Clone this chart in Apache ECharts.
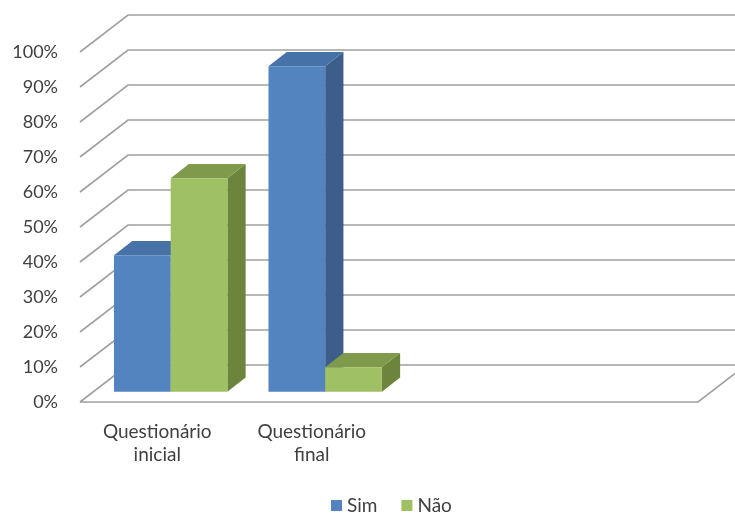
<!DOCTYPE html>
<html>
<head>
<meta charset="utf-8">
<script src="https://cdn.jsdelivr.net/npm/echarts@6/dist/echarts.min.js"></script>
<style>
  html, body { margin: 0; padding: 0; background: #fff; }
  #chart { width: 735px; height: 515px; }
</style>
</head>
<body>
<div id="chart"></div>
<script>
// dados do gráfico
const categories = ['Questionário\ninicial', 'Questionário\nfinal', '', '']
const simValues = [39, 93]
const naoValues = [61, 7]
const yTicks = [0, 10, 20, 30, 40, 50, 60, 70, 80, 90, 100]

// profundidade 3D (em px) da parede e das barras
const DX = 48
const DY = 37
const BAR_FRONT = 0.28   // fração da profundidade onde começa a barra
const BAR_DEPTH = 0.38   // fração da profundidade ocupada pela barra
const BAR_FRAC = 0.367   // largura de uma barra em relação à banda

const colors = {
  sim: { front: '#5384c0', top: '#4672a8', side: '#3d5e8a' },
  nao: { front: '#a0c064', top: '#7f9a4a', side: '#6d843c' }
}

const chart = echarts.init(document.getElementById('chart'))

// linhas de grade em perspectiva (parede lateral + parede do fundo)
const renderWalls = (params, api) => {
  const cs = params.coordSys
  const v = api.value(1)
  const y = api.coord([0, v])[1]
  const x0 = cs.x
  const style = { stroke: '#a0a0a0', lineWidth: 1.6, fill: null }
  const children = [{
    type: 'polyline',
    shape: { points: [[x0, y], [x0 + DX, y - DY], [x0 + cs.width + DX + 80, y - DY]] },
    style
  }]
  if (v === 0) {
    children.push({
      type: 'polyline',
      shape: { points: [[x0, y], [x0 + cs.width, y], [x0 + cs.width + DX, y - DY]] },
      style
    })
  }
  return { type: 'group', children }
}

// barra 3D: face frontal, topo e lateral
const makeBarRenderer = (idx, pal) => (params, api) => {
  const c = api.value(0)
  const v = api.value(1)
  const base = api.coord([c, 0])
  const topPt = api.coord([c, v])
  const band = api.size([1, 0])[0]
  const w = band * BAR_FRAC
  const fdx = DX * BAR_FRONT, fdy = DY * BAR_FRONT
  const ddx = DX * BAR_DEPTH, ddy = DY * BAR_DEPTH
  const L = base[0] - w + idx * w + fdx
  const T = topPt[1] - fdy
  const B = base[1] - fdy
  return {
    type: 'group',
    children: [
      {
        type: 'polygon',
        shape: { points: [[L + w, T], [L + w + ddx, T - ddy], [L + w + ddx, B - ddy], [L + w, B]] },
        style: { fill: pal.side }
      },
      {
        type: 'polygon',
        shape: { points: [[L, T], [L + w, T], [L + w + ddx, T - ddy], [L + ddx, T - ddy]] },
        style: { fill: pal.top }
      },
      {
        type: 'rect',
        shape: { x: L, y: T, width: w, height: B - T },
        style: { fill: pal.front }
      }
    ]
  }
}

const option = {
  animation: false,
  textStyle: { fontFamily: 'Lato, "Open Sans", sans-serif' },
  grid: { left: 80, right: 37, top: 52, bottom: 113, containLabel: false },
  legend: {
    data: ['Sim', 'Não'],
    top: 496,
    left: 331,
    padding: 0,
    icon: 'rect',
    itemWidth: 11,
    itemHeight: 11,
    itemGap: 24,
    textStyle: { fontSize: 19, color: '#404040', fontFamily: 'Lato, "Open Sans", sans-serif' }
  },
  xAxis: {
    type: 'category',
    data: categories,
    boundaryGap: true,
    axisLine: { show: false },
    axisTick: { show: false },
    axisLabel: {
      margin: 18,
      fontSize: 19,
      lineHeight: 23,
      color: '#404040',
      interval: 0
    }
  },
  yAxis: {
    type: 'value',
    min: 0,
    max: 100,
    interval: 10,
    axisLine: { show: false },
    axisTick: { show: false },
    splitLine: { show: false },
    axisLabel: {
      margin: 22,
      fontSize: 18,
      color: '#404040',
      formatter: '{value}%'
    }
  },
  series: [
    {
      name: 'grade',
      type: 'custom',
      renderItem: renderWalls,
      data: yTicks.map(v => [0, v]),
      encode: { x: 0, y: 1 },
      clip: false,
      silent: true,
      z: 1
    },
    {
      name: 'Sim',
      type: 'custom',
      renderItem: makeBarRenderer(0, colors.sim),
      itemStyle: { color: colors.sim.front },
      data: simValues.map((v, i) => [i, v]),
      encode: { x: 0, y: 1 },
      clip: false,
      z: 2
    },
    {
      name: 'Não',
      type: 'custom',
      renderItem: makeBarRenderer(1, colors.nao),
      itemStyle: { color: colors.nao.front },
      data: naoValues.map((v, i) => [i, v]),
      encode: { x: 0, y: 1 },
      clip: false,
      z: 2
    }
  ]
}

chart.setOption(option)
</script>
</body>
</html>
